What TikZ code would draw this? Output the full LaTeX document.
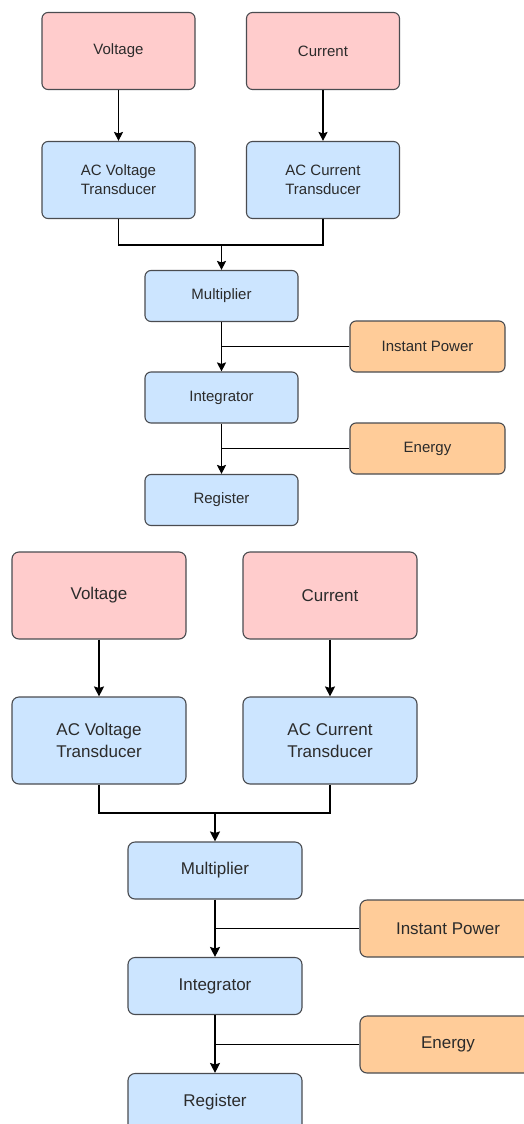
\documentclass[tikz,border=0pt]{standalone}
\usepackage{fontspec}
\setmainfont{Liberation Sans}
\usetikzlibrary{arrows.meta,calc}
\definecolor{pinkf}{HTML}{FFCCCC}
\definecolor{bluef}{HTML}{CCE5FF}
\definecolor{orangef}{HTML}{FFCC99}
\definecolor{strk}{HTML}{4A4C50}
\definecolor{txt}{HTML}{2B2B2B}
\begin{document}
\begin{tikzpicture}[x=1pt,y=-1pt,
  box/.style={draw=strk, line width=1.1pt, text=txt, align=center, inner sep=0pt},
  sbox/.style={box, rounded corners=6pt, font=\fontsize{15}{19}\selectfont},
  lbox/.style={box, rounded corners=7pt, font=\fontsize{17}{21.5}\selectfont},
  pinkb/.style={fill=pinkf},
  blueb/.style={fill=bluef},
  orangeb/.style={fill=orangef},
  sbig/.style={sbox, minimum width=153pt, minimum height=77pt},
  ssmall/.style={sbox, minimum width=153pt, minimum height=51pt},
  lbig/.style={lbox, minimum width=174pt, minimum height=87pt},
  lsmall/.style={lbox, minimum width=174pt, minimum height=57pt},
  conn/.style={draw=black, line width=1.2pt},
  arr/.style={conn, -{Stealth[length=9pt,width=9pt,inset=1.5pt]}},
  larr/.style={conn, -{Stealth[length=10pt,width=10pt,inset=1.5pt]}}
]
\clip (0,0) rectangle (524,1124);
\fill[white] (0,0) rectangle (524,1124);

% ---------- top diagram ----------
\node[sbig, pinkb] (v1) at (118.5,51) {Voltage};
\node[sbig, pinkb] (c1) at (323,51) {Current};
\node[sbig, blueb] (av1) at (118.5,180) {AC Voltage\\Transducer};
\node[sbig, blueb] (ac1) at (323,180) {AC Current\\Transducer};
\node[ssmall, blueb] (m1) at (221.5,296) {Multiplier};
\node[ssmall, orangeb, minimum width=155pt] (ip1) at (427.5,346.5) {Instant Power};
\node[ssmall, blueb] (i1) at (221.5,397.5) {Integrator};
\node[ssmall, orangeb, minimum width=155pt] (e1) at (427.5,448.5) {Energy};
\node[ssmall, blueb] (r1) at (221.5,500) {Register};
\coordinate (j1) at (221.5,245);

\draw[arr] (v1) -- (av1);
\draw[arr] (c1) -- (ac1);
\draw[conn] (av1.south) |- (j1);
\draw[arr] (ac1.south) |- (j1) -- (m1.north);
\draw[arr] (m1) -- (i1);
\draw[conn] (ip1.west) -- (ip1.west -| m1.south);
\draw[arr] (i1) -- (r1);
\draw[conn] (e1.west) -- (e1.west -| i1.south);

% ---------- bottom diagram ----------
\node[lbig, pinkb] (v2) at (99,595.5) {Voltage};
\node[lbig, pinkb] (c2) at (330,595.5) {Current};
\node[lbig, blueb] (av2) at (99,740.5) {AC Voltage\\Transducer};
\node[lbig, blueb] (ac2) at (330,740.5) {AC Current\\Transducer};
\node[lsmall, blueb] (m2) at (215,870.5) {Multiplier};
\node[lsmall, orangeb, minimum width=176pt] (ip2) at (448,928.5) {Instant Power};
\node[lsmall, blueb] (i2) at (215,986) {Integrator};
\node[lsmall, orangeb, minimum width=176pt] (e2) at (448,1044.5) {Energy};
\node[lsmall, blueb] (r2) at (215,1102) {Register};
\coordinate (j2) at (215,813);

\draw[larr] (v2) -- (av2);
\draw[larr] (c2) -- (ac2);
\draw[conn] (av2.south) |- (j2);
\draw[larr] (ac2.south) |- (j2) -- (m2.north);
\draw[larr] (m2) -- (i2);
\draw[conn] (ip2.west) -- (ip2.west -| m2.south);
\draw[larr] (i2) -- (r2);
\draw[conn] (e2.west) -- (e2.west -| i2.south);
\end{tikzpicture}
\end{document}
